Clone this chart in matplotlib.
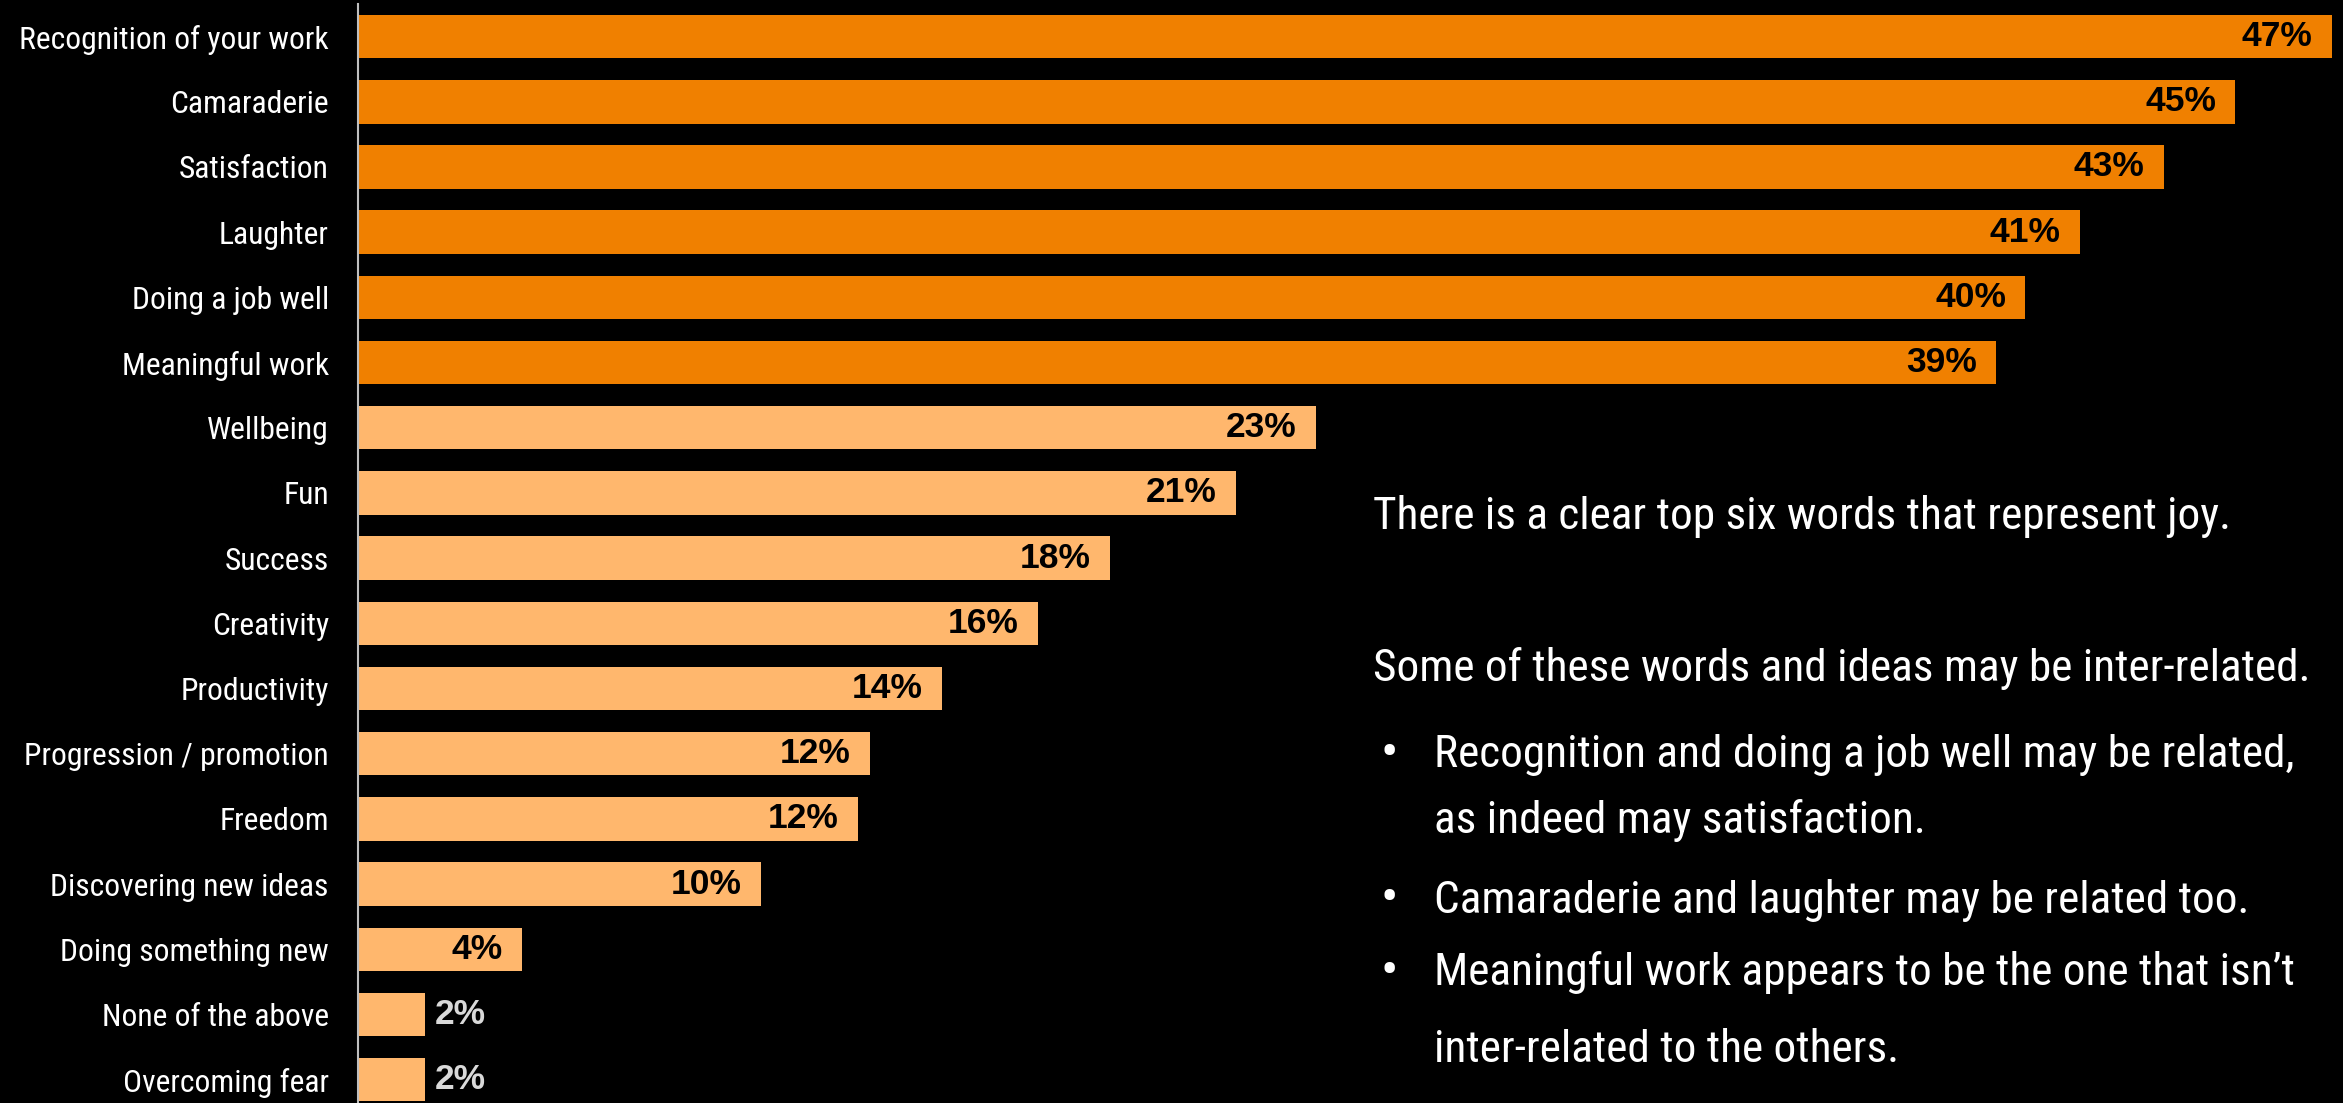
import matplotlib
matplotlib.use("Agg")
import matplotlib.pyplot as plt
from matplotlib import font_manager as fm
import numpy as np

# datos
categorias = ["Recognition of your work", "Camaraderie", "Satisfaction", "Laughter",
              "Doing a job well", "Meaningful work", "Wellbeing", "Fun", "Success",
              "Creativity", "Productivity", "Progression / promotion", "Freedom",
              "Discovering new ideas", "Doing something new", "None of the above",
              "Overcoming fear"]
valores = [47.0, 44.7, 43.0, 41.0, 39.7, 39.0, 22.8, 20.9, 17.9, 16.2, 13.9,
           12.2, 11.9, 9.6, 3.9, 1.6, 1.6]
etiquetas = ["47%", "45%", "43%", "41%", "40%", "39%", "23%", "21%", "18%", "16%",
             "14%", "12%", "12%", "10%", "4%", "2%", "2%"]
top_n = 6

comentario = "There is a clear top six words that represent joy."
comentario2 = "Some of these words and ideas may be inter-related."
puntos = [["Recognition and doing a job well may be related,", "as indeed may satisfaction."],
          ["Camaraderie and laughter may be related too."],
          ["Meaningful work appears to be the one that isn\u2019t", "inter-related to the others."]]

W, H = 2343, 1103
naranja = "#F08000"
naranja_claro = "#FFB76D"


def fuente_estrecha():
    # busca una fuente condensada instalada, si no hay usa DejaVu Sans
    nombres = {f.name for f in fm.fontManager.ttflist}
    for n in ["Liberation Sans Narrow", "Roboto Condensed", "Open Sans Condensed",
              "Noto Sans Condensed", "DejaVu Sans Condensed"]:
        if n in nombres:
            return lambda s: fm.FontProperties(family=n, size=s)
    for f in fm.fontManager.ttflist:
        base = f.fname.lower()
        if ("condensed" in base or "narrow" in base) and "bold" not in base \
                and "italic" not in base and "oblique" not in base:
            ruta = f.fname
            return lambda s: fm.FontProperties(fname=ruta, size=s)
    return lambda s: fm.FontProperties(family="DejaVu Sans", size=s)


fp = fuente_estrecha()

fig = plt.figure(figsize=(W / 100, H / 100), dpi=100, facecolor="black")
render = fig.canvas.get_renderer()


def ajustar(texto, ancho_px, maximo):
    # tamaño de letra para que el texto ocupe ancho_px
    t = fig.text(0, 0, texto, fontproperties=fp(maximo))
    w = t.get_window_extent(render).width
    t.remove()
    return min(maximo, maximo * ancho_px / w)


px_por_pct = 42.0
ax = fig.add_axes([358 / W, 0, (W - 358) / W, 1])
ax.set_facecolor("black")

y = np.arange(len(categorias))
colores = [naranja if i < top_n else naranja_claro for i in y]
ax.barh(y, valores, height=0.667, color=colores)
ax.set_xlim(0, (W - 358) / px_por_pct)
ax.set_ylim((H - 36.6) / 65.19, -36.6 / 65.19)

for s in ["top", "right", "bottom"]:
    ax.spines[s].set_visible(False)
ax.spines["left"].set_color("#BFBFBF")
ax.spines["left"].set_linewidth(1.5)
ax.spines["left"].set_bounds(-0.5, 20)
ax.set_xticks([])
ax.set_yticks(y)
tam_cat = ajustar("Recognition of your work", 311, 24)
ax.set_yticklabels(categorias, fontproperties=fp(tam_cat), color="white")
ax.tick_params(axis="y", length=0, pad=21)

for i, (v, et) in enumerate(zip(valores, etiquetas)):
    if v < 3:
        ax.annotate(et, (v, i), xytext=(7, 0), textcoords="offset points",
                    ha="left", va="center", fontsize=25.5, fontweight="bold",
                    family="Liberation Sans", color="#D9D9D9")
    else:
        ax.annotate(et, (v, i), xytext=(-14, 0), textcoords="offset points",
                    ha="right", va="center", fontsize=25.5, fontweight="bold",
                    family="Liberation Sans", color="black")

# texto de la derecha
tam = ajustar(comentario2, 937, 35)
fig.text(1373 / W, 1 - 517 / H, comentario, fontproperties=fp(tam),
         color="white", va="center", ha="left")
fig.text(1373 / W, 1 - 668 / H, comentario2, fontproperties=fp(tam),
         color="white", va="center", ha="left")
ys = [[755, 820], [900], [973, 1050]]
for lineas, yy in zip(puntos, ys):
    fig.text(1381 / W, 1 - yy[0] / H, "\u2022", fontproperties=fp(tam * 1.15),
             color="white", va="center", ha="left")
    for linea, yl in zip(lineas, yy):
        fig.text(1434 / W, 1 - yl / H, linea, fontproperties=fp(tam),
                 color="white", va="center", ha="left")

fig.savefig("out.png", dpi=100, facecolor="black")
